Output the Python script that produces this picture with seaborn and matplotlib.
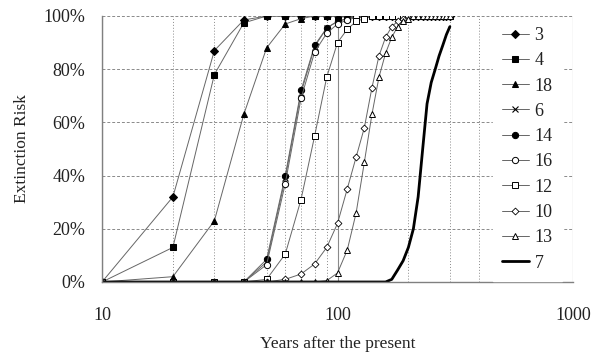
import pandas as pd
import matplotlib
matplotlib.use("Agg")
import matplotlib.pyplot as plt
import seaborn as sns
from matplotlib.ticker import PercentFormatter, LogLocator, NullFormatter

# Estilo
sns.set_theme(style="white")
plt.rcParams['font.family'] = ['Liberation Serif', 'DejaVu Serif']

# Dados (anos 10, 20, ..., 300)
anos = [10, 20, 30, 40, 50, 60, 70, 80, 90, 100,
        110, 120, 130, 140, 150, 160, 170, 180, 190, 200,
        210, 220, 230, 240, 250, 260, 270, 280, 290, 300]

s3 = [0, 0.32, 0.87, 0.985, 1, 1, 1, 1, 1, 1,
      1, 1, 1, 1, 1, 1, 1, 1, 1, 1,
      1, 1, 1, 1, 1, 1, 1, 1, 1, 1]
s4 = [0, 0.13, 0.78, 0.974, 1, 1, 1, 1, 1, 1,
      1, 1, 1, 1, 1, 1, 1, 1, 1, 1,
      1, 1, 1, 1, 1, 1, 1, 1, 1, 1]
s18 = [0, 0.02, 0.23, 0.63, 0.88, 0.97, 0.99, 1, 1, 1,
       1, 1, 1, 1, 1, 1, 1, 1, 1, 1,
       1, 1, 1, 1, 1, 1, 1, 1, 1, 1]
s6 = [0, 0, 0, 0, 0.075, 0.39, 0.71, 0.885, 0.955, 0.98,
      0.99, 1, 1, 1, 1, 1, 1, 1, 1, 1,
      1, 1, 1, 1, 1, 1, 1, 1, 1, 1]
s14 = [0, 0, 0, 0, 0.085, 0.40, 0.72, 0.89, 0.955, 0.98,
       0.99, 1, 1, 1, 1, 1, 1, 1, 1, 1,
       1, 1, 1, 1, 1, 1, 1, 1, 1, 1]
s16 = [0, 0, 0, 0, 0.065, 0.37, 0.69, 0.865, 0.935, 0.97,
       0.985, 0.995, 1, 1, 1, 1, 1, 1, 1, 1,
       1, 1, 1, 1, 1, 1, 1, 1, 1, 1]
s12 = [0, 0, 0, 0, 0.01, 0.105, 0.31, 0.55, 0.77, 0.90,
       0.95, 0.98, 0.99, 1, 1, 1, 1, 1, 1, 1,
       1, 1, 1, 1, 1, 1, 1, 1, 1, 1]
s10 = [0, 0, 0, 0, 0, 0.01, 0.03, 0.068, 0.13, 0.22,
       0.35, 0.47, 0.58, 0.73, 0.85, 0.92, 0.96, 0.98, 0.99, 1,
       1, 1, 1, 1, 1, 1, 1, 1, 1, 1]
s13 = [0, 0, 0, 0, 0, 0, 0, 0, 0.005, 0.034,
       0.12, 0.26, 0.45, 0.63, 0.77, 0.86, 0.92, 0.96, 0.98, 0.99,
       1, 1, 1, 1, 1, 1, 1, 1, 1, 1]
s7 = [0, 0, 0, 0, 0, 0, 0, 0, 0, 0,
      0, 0, 0, 0, 0, 0, 0.01, 0.045, 0.08, 0.13,
      0.20, 0.32, 0.50, 0.67, 0.75, 0.80, 0.85, 0.89, 0.93, 0.96]

series = [
    ("3", s3, dict(marker="D", ms=4, mfc="black", mec="black")),
    ("4", s4, dict(marker="s", ms=5, mfc="black", mec="black")),
    ("18", s18, dict(marker="^", ms=5, mfc="black", mec="black")),
    ("6", s6, dict(marker="x", ms=4, mfc="black", mec="black", mew=0.8)),
    ("14", s14, dict(marker="o", ms=4.5, mfc="black", mec="black")),
    ("16", s16, dict(marker="o", ms=4.5, mfc="white", mec="black", mew=0.7)),
    ("12", s12, dict(marker="s", ms=5, mfc="white", mec="black", mew=0.7)),
    ("10", s10, dict(marker="D", ms=3.5, mfc="white", mec="black", mew=0.6)),
    ("13", s13, dict(marker="^", ms=5, mfc="white", mec="black", mew=0.7)),
]

fig = plt.figure(figsize=(5.95, 3.54), dpi=100)
ax = fig.add_axes([102 / 595, 1 - 282 / 354, 471 / 595, 266 / 354])

for nome, valores, estilo in series:
    sns.lineplot(x=anos, y=valores, ax=ax, color="#666666", lw=0.7,
                 label=nome, **estilo)
sns.lineplot(x=anos, y=s7, ax=ax, color="black", lw=2.0, label="7")

ax.set_xscale("log")
ax.set_xlim(10, 1000)
ax.set_ylim(0, 1)
ax.yaxis.set_major_formatter(PercentFormatter(1.0, decimals=0))
ax.set_yticks([0, 0.2, 0.4, 0.6, 0.8, 1.0])
ax.xaxis.set_minor_locator(LogLocator(base=10, subs=range(2, 10)))
ax.xaxis.set_minor_formatter(NullFormatter())
ax.set_xticks([10, 100, 1000])
ax.set_xticklabels(["10", "100", "1000"])

ax.grid(True, which="major", axis="y", color="#8a8a8a", ls=(0, (3, 2)), lw=0.7)
ax.grid(True, which="major", axis="x", color="#8a8a8a", ls="-", lw=0.8)
ax.grid(True, which="minor", axis="x", color="#8a8a8a", ls=(0, (1, 2)), lw=0.7)
ax.set_axisbelow(True)

for lado in ["top", "right"]:
    ax.spines[lado].set_visible(False)
for lado in ["left", "bottom"]:
    ax.spines[lado].set_color("#808080")
    ax.spines[lado].set_linewidth(1.0)

ax.tick_params(axis="both", which="both", length=0, labelsize=13, colors="#222222")
ax.tick_params(axis="x", pad=18)
ax.tick_params(axis="y", pad=12)

ax.set_xlabel("Years after the present", fontsize=12.5, labelpad=9, color="#222222")
ax.set_ylabel("Extinction Risk", fontsize=12.5, labelpad=10, color="#222222")

leg = ax.legend(loc="upper left", bbox_to_anchor=(0.83, 0.993, 0.146, 0.0),
                mode="expand", frameon=True, fancybox=False, framealpha=1,
                facecolor="white", edgecolor="white", fontsize=13,
                handlelength=1.5, handletextpad=0.3, labelspacing=0.46,
                borderpad=0.5, borderaxespad=0)
for t in leg.get_texts():
    t.set_color("#222222")

fig.savefig("out.png", dpi=100)
